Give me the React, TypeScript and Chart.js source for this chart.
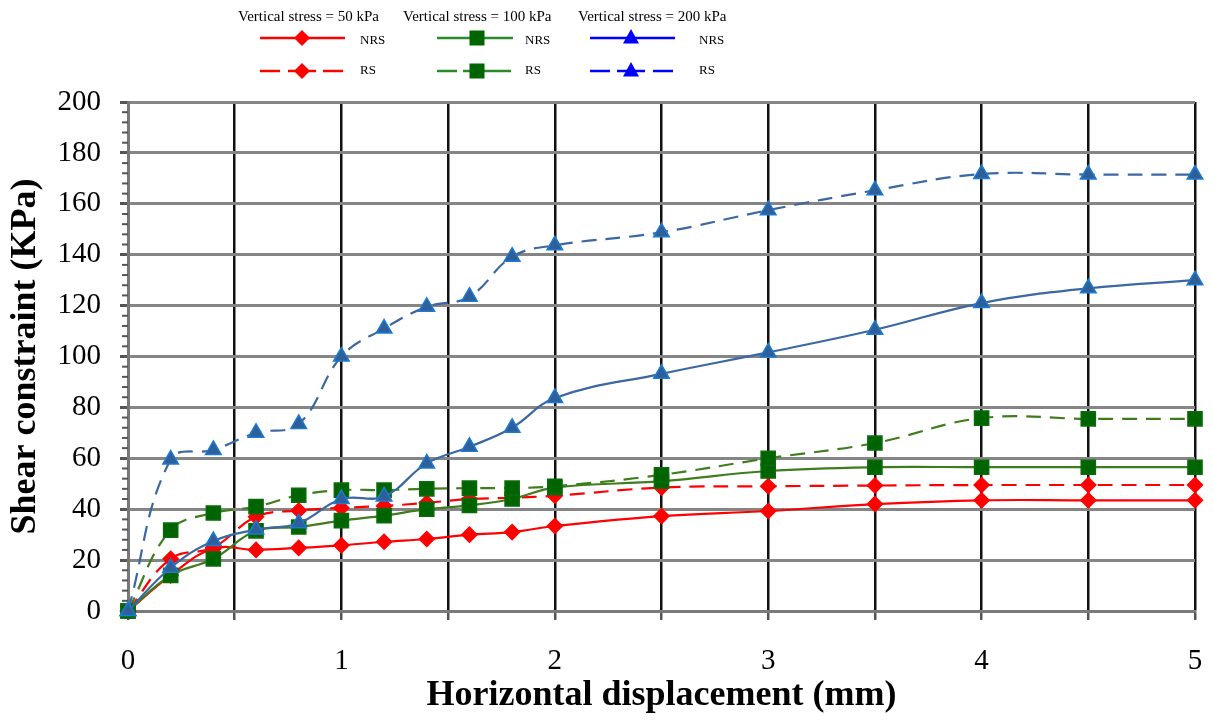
import React, { useEffect, useRef } from 'react';
import { Chart, registerables } from 'chart.js';

Chart.register(...registerables);

// ---- Data ----
const displacement = [0, 0.2, 0.4, 0.6, 0.8, 1.0, 1.2, 1.4, 1.6, 1.8, 2.0, 2.5, 3.0, 3.5, 4.0, 4.5, 5.0];

const nrs50 = [0, 14, 24.5, 24, 24.8, 25.8, 27.2, 28.3, 30, 31, 33.4, 37.3, 39.3, 42, 43.5, 43.5, 43.5];
const rs50 = [0, 20.5, 25, 37, 39.5, 40.5, 41.3, 42.5, 44, 44.5, 45.3, 48.5, 49, 49.3, 49.5, 49.5, 49.5];
const nrs100 = [0, 14, 20.5, 31.5, 33, 35.5, 37.5, 40, 41.5, 44, 48.5, 51, 55, 56.5, 56.5, 56.5, 56.5];
const rs100 = [0, 31.8, 38.5, 41, 45.5, 47.5, 47.5, 48, 48.3, 48.3, 49, 53.5, 60, 66, 75.8, 75.5, 75.5];
const nrs200 = [0, 17, 27.5, 32, 34.5, 44, 45, 58, 64.5, 72, 83.7, 93.2, 101.6, 110.5, 121, 126.8, 130];
const rs200 = [0, 59.5, 63.3, 70, 73.5, 100, 111, 119.5, 123.5, 139.2, 143.7, 148.8, 157.5, 165.3, 171.7, 171.5, 171.5];

const legendHeaders = ['Vertical stress = 50 kPa', 'Vertical stress = 100 kPa', 'Vertical stress = 200 kPa'];
const legendRows = ['NRS', 'RS'];

const xTitle = 'Horizontal displacement (mm)';
const yTitle = 'Shear constraint (KPa)';

const SERIF = '"Liberation Serif", "Times New Roman", Times, serif';

export default function App() {
  const ref = useRef<HTMLCanvasElement>(null);

  useEffect(() => {
    const canvas = ref.current;
    if (!canvas) return;

    const toXY = (ys: number[]) => displacement.map((x, i) => ({ x, y: ys[i] }));

    const mk = (
      label: string,
      ys: number[],
      line: string,
      pointStyle: string,
      pBg: string,
      pBorder: string,
      dashed: boolean,
      order: number,
      radius: number,
    ) => ({
      label,
      data: toXY(ys),
      borderColor: line,
      borderWidth: 2.2,
      borderDash: dashed ? [15, 9] : [],
      pointStyle,
      pointRadius: radius,
      pointBackgroundColor: pBg,
      pointBorderColor: pBorder,
      pointBorderWidth: 1.5,
      tension: 0.4,
      fill: false,
      clip: false,
      order,
    });

    const datasets = [
      mk('50 kPa NRS', nrs50, '#ff0000', 'rectRot', '#ff0000', '#ff0000', false, 5, 7.5),
      mk('50 kPa RS', rs50, '#ff0000', 'rectRot', '#ff0000', '#ff0000', true, 4, 7.5),
      mk('100 kPa NRS', nrs100, '#3f7d1c', 'rect', '#006400', '#0b6b0b', false, 3, 10),
      mk('100 kPa RS', rs100, '#3f7d1c', 'rect', '#006400', '#0b6b0b', true, 2, 10),
      mk('200 kPa NRS', nrs200, '#3b67a3', 'triangle', '#2f5f98', '#1c7ad2', false, 1, 9),
      mk('200 kPa RS', rs200, '#3b67a3', 'triangle', '#2f5f98', '#1c7ad2', true, 0, 9),
    ];

    const minorTicks = {
      id: 'minorTicks',
      beforeDatasetsDraw(chart: any) {
        const ctx = chart.ctx;
        const ys = chart.scales.y;
        const left = chart.chartArea.left;
        ctx.save();
        ctx.strokeStyle = '#555';
        ctx.lineWidth = 2;
        for (let v = 0; v <= 200; v += 4) {
          if (v % 20 === 0) continue;
          const py = ys.getPixelForValue(v);
          ctx.beginPath();
          ctx.moveTo(left - 6, py);
          ctx.lineTo(left, py);
          ctx.stroke();
        }
        ctx.restore();
      },
    };

    const drawMarker = (ctx: CanvasRenderingContext2D, kind: string, x: number, y: number, color: string) => {
      ctx.fillStyle = color;
      ctx.beginPath();
      if (kind === 'diamond') {
        ctx.moveTo(x - 8, y);
        ctx.lineTo(x, y - 8);
        ctx.lineTo(x + 8, y);
        ctx.lineTo(x, y + 8);
      } else if (kind === 'square') {
        ctx.rect(x - 7.5, y - 7.5, 15, 15);
      } else {
        ctx.moveTo(x, y - 9);
        ctx.lineTo(x + 8, y + 5.5);
        ctx.lineTo(x - 8, y + 5.5);
      }
      ctx.closePath();
      ctx.fill();
    };

    const legendPlugin = {
      id: 'gridLegend',
      afterDraw(chart: any) {
        const ctx: CanvasRenderingContext2D = chart.ctx;
        const cols = [
          { headerX: 238, lineL: 260, lineR: 345, mark: 302, textX: 360, color: '#ff0000', markColor: '#ff0000', kind: 'diamond' },
          { headerX: 403, lineL: 437, lineR: 513, mark: 477, textX: 525, color: '#2a8a2a', markColor: '#006400', kind: 'square' },
          { headerX: 578, lineL: 590, lineR: 675, mark: 631, textX: 699, color: '#0000ff', markColor: '#0000ff', kind: 'triangle' },
        ];
        const rowY = [38, 71];
        ctx.save();
        ctx.textBaseline = 'middle';
        ctx.textAlign = 'left';
        cols.forEach((c, i) => {
          ctx.fillStyle = '#000';
          ctx.font = `15px ${SERIF}`;
          ctx.fillText(legendHeaders[i], c.headerX, 17);
          legendRows.forEach((row, r) => {
            const y = rowY[r];
            ctx.strokeStyle = c.color;
            ctx.lineWidth = 2.5;
            if (r === 0) {
              ctx.beginPath();
              ctx.moveTo(c.lineL, y);
              ctx.lineTo(c.lineR, y);
              ctx.stroke();
            } else {
              const segs = [
                [c.lineL, c.lineL + 20],
                [c.mark - 14, c.mark + 14],
                [c.lineR - 22, c.lineR - 2],
              ];
              segs.forEach(([a, b]) => {
                ctx.beginPath();
                ctx.moveTo(a, y);
                ctx.lineTo(b, y);
                ctx.stroke();
              });
            }
            drawMarker(ctx, c.kind, c.mark, y, c.markColor);
            ctx.fillStyle = '#000';
            ctx.font = `13px ${SERIF}`;
            ctx.fillText(row, c.textX, y + (r === 0 ? 3 : 0));
          });
        });
        ctx.restore();
      },
    };

    const chart = new Chart(canvas, {
      type: 'line',
      data: { datasets: datasets as any },
      options: {
        responsive: false,
        animation: false,
        layout: { padding: { top: 102, right: 19, left: 0, bottom: 0 } },
        plugins: {
          legend: { display: false },
          tooltip: { enabled: false },
          title: { display: false },
        },
        scales: {
          x: {
            type: 'linear',
            min: 0,
            max: 5,
            ticks: {
              stepSize: 0.5,
              autoSkip: false,
              maxRotation: 0,
              padding: 24,
              color: '#000',
              font: { family: SERIF, size: 29 },
              callback: (v: any) => (Number.isInteger(Number(v)) ? String(v) : ''),
            },
            grid: {
              color: (ctx: any) => (ctx.tick && ctx.tick.value === 0 ? 'rgba(0,0,0,0)' : '#111'),
              lineWidth: 2.5,
              tickLength: 9,
              tickColor: '#555',
            },
            border: { display: true, color: '#7a7a7a', width: 3 },
            title: {
              display: true,
              text: xTitle,
              color: '#000',
              font: { family: SERIF, size: 36, weight: 'bold' },
              padding: { top: 0, bottom: 10 },
            },
            afterFit: (s: any) => {
              s.height = 116;
              s.paddingLeft = 0;
              s.paddingRight = 0;
            },
          },
          y: {
            type: 'linear',
            min: 0,
            max: 200,
            ticks: {
              stepSize: 20,
              padding: 19,
              color: '#000',
              font: { family: SERIF, size: 29 },
            },
            grid: {
              color: '#858585',
              lineWidth: 3,
              tickLength: 8,
              tickColor: '#555',
            },
            border: { display: true, color: '#777', width: 3 },
            title: {
              display: true,
              text: yTitle,
              color: '#000',
              font: { family: SERIF, size: 36, weight: 'bold' },
              padding: { top: 4, bottom: 0 },
            },
            afterFit: (s: any) => {
              s.width = 128;
              s.paddingTop = 0;
              s.paddingBottom = 0;
            },
          },
        },
      } as any,
      plugins: [minorTicks, legendPlugin],
    });

    return () => chart.destroy();
  }, []);

  return (
    <div style={{ position: 'fixed', left: 0, top: 0, width: 1214, height: 727, background: '#fff' }}>
      <canvas ref={ref} width={1214} height={727} style={{ display: 'block' }} />
    </div>
  );
}
